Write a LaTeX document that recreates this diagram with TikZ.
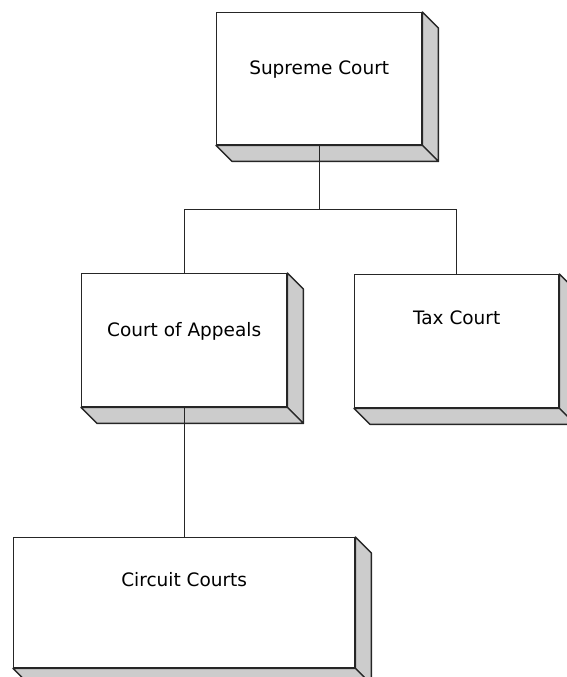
\documentclass[tikz,border=0pt]{standalone}
\usepackage{fontspec}
\newfontfamily\courtfont{DejaVu Sans}
\usetikzlibrary{calc}

% extruded face behind a box node
\newcommand{\sidefaces}[1]{%
  \filldraw[sideface] (#1.north east) -- ++(16,16) -- ($(#1.south east)+(16,16)$) -- (#1.south east) -- cycle;
  \filldraw[sideface] (#1.south west) -- ++(16,16) -- ($(#1.south east)+(16,16)$) -- (#1.south east) -- cycle;}

\begin{document}
\begin{tikzpicture}[
        x=1pt, y=-1pt,
        court/.style={draw=black!85, fill=white, line width=1.4pt, inner sep=0pt,
          anchor=north west, font=\courtfont\fontsize{18.5}{20}\selectfont},
        sideface/.style={draw=black!85, fill=black!20, line width=1.4pt, line join=round},
        link/.style={draw=black!85, line width=1.4pt},
        ]
        \useasboundingbox (0,0) rectangle (566,677);

        \node[court, minimum width=205pt, text height=61.5pt, text depth=70.5pt] (supreme) at (216,12) {Supreme Court};
        \node[court, minimum width=205pt, text height=62.5pt, text depth=70.5pt] (appeals) at (81,273) {Court of Appeals};
        \node[court, minimum width=204pt, text height=49.5pt, text depth=83.5pt] (tax) at (354,274) {Tax Court};
        \node[court, minimum width=341pt, text height=48.5pt, text depth=81.5pt] (circuit) at (13,537) {Circuit Courts};

        \sidefaces{supreme}
        \sidefaces{appeals}
        \sidefaces{tax}
        \sidefaces{circuit}

        \draw[link] (supreme.south) -- ++(0,64) coordinate (split);
        \draw[link] (appeals.north) |- (split) -| (tax.north);
        \draw[link] (appeals.south) -- (circuit.north -| appeals.south);
      \end{tikzpicture}
\end{document}
